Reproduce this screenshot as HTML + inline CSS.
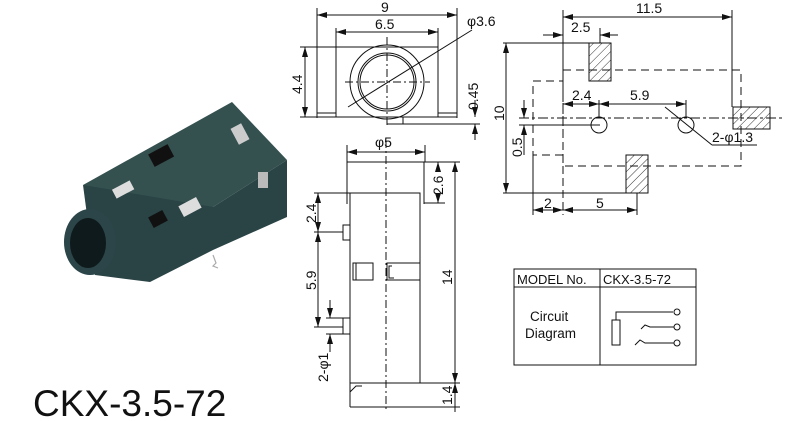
<!DOCTYPE html>
<html><head><meta charset="utf-8"><style>
html,body{margin:0;padding:0;background:#fff}
svg{display:block}
text{font-family:"Liberation Sans",Arial,sans-serif;fill:#111}
</style></head><body>
<svg width="800" height="421" viewBox="0 0 800 421" xmlns="http://www.w3.org/2000/svg">
<defs>
<marker id="a" viewBox="0 0 10 6" refX="10" refY="3" markerWidth="10" markerHeight="6" orient="auto-start-reverse" markerUnits="userSpaceOnUse"><path d="M0,0 L10,3 L0,6 z" fill="#111"/></marker>
<pattern id="h" width="6" height="6" patternUnits="userSpaceOnUse" patternTransform="rotate(45)"><line x1="0" y1="0" x2="0" y2="6" stroke="#333" stroke-width="1"/></pattern>
</defs>

<!-- Photo -->
<g>
<polygon points="83,185 232,102 287,160 213,207 140,212" fill="#34504f"/>
<polygon points="213,207 287,160 287,217 213,250" fill="#2a4446"/>
<polygon points="83,185 213,207 213,250 150,282 95,275" fill="#2a4345"/>
<ellipse cx="90" cy="242" rx="26" ry="33" fill="#2b4549"/>
<ellipse cx="88" cy="243" rx="18" ry="25" fill="#0f1a1c"/>
<rect x="150" y="148" width="22" height="14" fill="#111" transform="rotate(-28 162 155)"/>
<rect x="113" y="184" width="20" height="10" fill="#ddd" transform="rotate(-28 124 189)"/>
<rect x="180" y="201" width="20" height="12" fill="#ddd" transform="rotate(-28 190 207)"/>
<rect x="234" y="125" width="12" height="18" fill="#ccc" transform="rotate(-28 240 134)"/>
<rect x="258" y="172" width="10" height="16" fill="#bbb"/>
<rect x="150" y="213" width="16" height="12" fill="#111" transform="rotate(-28 158 219)"/>
<path d="M213,255 l3,8 l-3,3 l5,2" stroke="#aaa" fill="none" stroke-width="1.2"/>
</g>
<text x="33" y="416" font-size="37">CKX-3.5-72</text>

<g stroke="#111" stroke-width="1" fill="none">
<!-- Top view -->
<line x1="317" y1="8" x2="317" y2="118"/><line x1="457" y1="8" x2="457" y2="118"/>
<line x1="317" y1="15" x2="457" y2="15" marker-start="url(#a)" marker-end="url(#a)"/>
<line x1="336" y1="28" x2="336" y2="47"/><line x1="438" y1="28" x2="438" y2="47"/>
<line x1="336" y1="32" x2="438" y2="32" marker-start="url(#a)" marker-end="url(#a)"/>
<rect x="336" y="47" width="102" height="70"/>
<line x1="317" y1="113" x2="336" y2="113"/><line x1="438" y1="113" x2="457" y2="113"/>
<line x1="317" y1="117" x2="457" y2="117"/>
<circle cx="387" cy="82" r="37"/><circle cx="387" cy="82" r="29"/><circle cx="387" cy="82" r="27"/>
<rect x="387" y="117" width="16" height="7"/>
<line x1="345" y1="82" x2="430" y2="82" stroke-dasharray="8,3,2,3"/>
<line x1="387" y1="37" x2="387" y2="127" stroke-dasharray="8,3,2,3"/>
<line x1="348" y1="107" x2="472" y2="30"/>
<line x1="300" y1="47" x2="336" y2="47"/>
<line x1="305" y1="47" x2="305" y2="117" marker-start="url(#a)" marker-end="url(#a)"/>
<line x1="300" y1="117" x2="317" y2="117"/>
<line x1="403" y1="124" x2="480" y2="124"/>
<line x1="475" y1="100" x2="475" y2="117" marker-end="url(#a)"/>
<line x1="475" y1="140" x2="475" y2="124" marker-end="url(#a)"/>

<!-- Side view -->
<line x1="347" y1="145" x2="347" y2="162"/><line x1="425" y1="145" x2="425" y2="162"/>
<line x1="347" y1="152" x2="425" y2="152" marker-start="url(#a)" marker-end="url(#a)"/>
<polyline points="347,204 347,162 424,162 424,204"/>
<rect x="350" y="193" width="70" height="190"/>
<line x1="350" y1="383" x2="350" y2="407"/><line x1="350" y1="407" x2="420" y2="407"/>
<polyline points="350,392 356,386 362,386"/>
<line x1="386" y1="140" x2="386" y2="412" stroke-dasharray="8,3,2,3"/>
<rect x="343" y="225" width="7" height="15"/><rect x="343" y="318" width="7" height="16"/>
<rect x="353" y="263" width="20" height="17"/><line x1="356" y1="263" x2="356" y2="280"/>
<rect x="387" y="263" width="33" height="17"/><polyline points="392,266 389,266 389,278 394,278"/>
<line x1="424" y1="162" x2="460" y2="162"/><line x1="424" y1="203" x2="445" y2="203"/>
<line x1="438" y1="170" x2="438" y2="162" marker-end="url(#a)"/><line x1="438" y1="195" x2="438" y2="203" marker-end="url(#a)"/>
<line x1="455" y1="162" x2="455" y2="383" marker-start="url(#a)" marker-end="url(#a)"/>
<line x1="420" y1="383" x2="460" y2="383"/><line x1="420" y1="407" x2="460" y2="407"/>
<line x1="455" y1="412" x2="455" y2="383" marker-end="url(#a)"/>
<line x1="314" y1="193" x2="350" y2="193"/><line x1="314" y1="232" x2="343" y2="232"/><line x1="314" y1="327" x2="343" y2="327"/>
<line x1="318" y1="193" x2="318" y2="232" marker-start="url(#a)" marker-end="url(#a)"/>
<line x1="318" y1="232" x2="318" y2="327" marker-start="url(#a)" marker-end="url(#a)"/>
<line x1="326" y1="318" x2="343" y2="318"/><line x1="326" y1="334" x2="343" y2="334"/>
<line x1="330" y1="300" x2="330" y2="318" marker-end="url(#a)"/><line x1="330" y1="352" x2="330" y2="334" marker-end="url(#a)"/>

<!-- Right footprint -->
<line x1="563" y1="10" x2="563" y2="70"/><line x1="563" y1="70" x2="563" y2="215" stroke-dasharray="8,4"/>
<line x1="732" y1="10" x2="732" y2="107"/>
<line x1="563" y1="17" x2="732" y2="17" marker-start="url(#a)" marker-end="url(#a)"/>
<line x1="543" y1="35" x2="563" y2="35" marker-end="url(#a)"/>
<line x1="618" y1="35" x2="600" y2="35" marker-end="url(#a)"/>
<line x1="600" y1="28" x2="600" y2="43"/>
<rect x="589" y="43" width="22" height="38" fill="url(#h)"/>
<rect x="733" y="107" width="37" height="22" fill="url(#h)"/>
<rect x="626" y="155" width="22" height="38" fill="url(#h)"/>
<rect x="563" y="70" width="178" height="96" stroke-dasharray="8,5"/>
<rect x="533" y="81" width="30" height="74" stroke-dasharray="8,5"/>
<line x1="519" y1="118" x2="785" y2="118" stroke-dasharray="10,3,3,3"/>
<line x1="519" y1="125" x2="600" y2="125"/>
<circle cx="599" cy="125" r="8"/><circle cx="686" cy="125" r="8"/>
<line x1="599" y1="100" x2="599" y2="117"/><line x1="686" y1="100" x2="686" y2="117"/>
<line x1="563" y1="104" x2="599" y2="104" marker-start="url(#a)" marker-end="url(#a)"/>
<line x1="599" y1="104" x2="686" y2="104" marker-start="url(#a)" marker-end="url(#a)"/>
<line x1="665" y1="107" x2="712" y2="145"/><line x1="712" y1="145" x2="757" y2="145"/>
<line x1="503" y1="43" x2="589" y2="43"/><line x1="503" y1="193" x2="648" y2="193"/>
<line x1="506" y1="43" x2="506" y2="193" marker-start="url(#a)" marker-end="url(#a)"/>
<line x1="524" y1="100" x2="524" y2="118" marker-end="url(#a)"/>
<line x1="524" y1="155" x2="524" y2="125" marker-end="url(#a)"/>
<line x1="533" y1="155" x2="533" y2="215"/><line x1="637" y1="193" x2="637" y2="215"/>
<line x1="533" y1="210" x2="563" y2="210" marker-start="url(#a)" marker-end="url(#a)"/>
<line x1="563" y1="210" x2="637" y2="210" marker-start="url(#a)" marker-end="url(#a)"/>

<!-- Table -->
<rect x="514" y="269" width="182" height="96"/>
<line x1="514" y1="287" x2="696" y2="287"/>
<line x1="600" y1="269" x2="600" y2="365"/>
<rect x="612" y="320" width="8" height="25"/>
<polyline points="616,320 616,312 673,312"/>
<circle cx="677" cy="312" r="3"/><circle cx="677" cy="327" r="3"/><circle cx="677" cy="343" r="3"/>
<polyline points="641,329 645,325 650,327 674,327"/>
<polyline points="635,345 640,340 645,343 674,343"/>
</g>

<g font-size="14">
<text x="381" y="12">9</text>
<text x="375" y="29">6.5</text>
<text x="467" y="26">φ3.6</text>
<text x="0" y="0" transform="translate(302,94) rotate(-90)">4.4</text>
<text x="0" y="0" transform="translate(478,110) rotate(-90)">0.45</text>
<text x="375" y="147">φ5</text>
<text x="0" y="0" transform="translate(443,195) rotate(-90)">2.6</text>
<text x="0" y="0" transform="translate(452,285) rotate(-90)">14</text>
<text x="0" y="0" transform="translate(452,405) rotate(-90)">1.4</text>
<text x="0" y="0" transform="translate(316,223) rotate(-90)">2.4</text>
<text x="0" y="0" transform="translate(316,290) rotate(-90)">5.9</text>
<text x="0" y="0" transform="translate(328,382) rotate(-90)">2-φ1</text>
<text x="636" y="13">11.5</text>
<text x="571" y="32">2.5</text>
<text x="572" y="100">2.4</text>
<text x="630" y="100">5.9</text>
<text x="712" y="142">2-φ1.3</text>
<text x="0" y="0" transform="translate(504,121) rotate(-90)">10</text>
<text x="0" y="0" transform="translate(522,157) rotate(-90)">0.5</text>
<text x="544" y="208">2</text>
<text x="596" y="208">5</text>
<text x="517" y="284" font-size="13">MODEL No.</text>
<text x="603" y="284" font-size="13">CKX-3.5-72</text>
<text x="530" y="321" font-size="13.5">Circuit</text>
<text x="525" y="338" font-size="13.5">Diagram</text>
</g>
</svg>
</body></html>
